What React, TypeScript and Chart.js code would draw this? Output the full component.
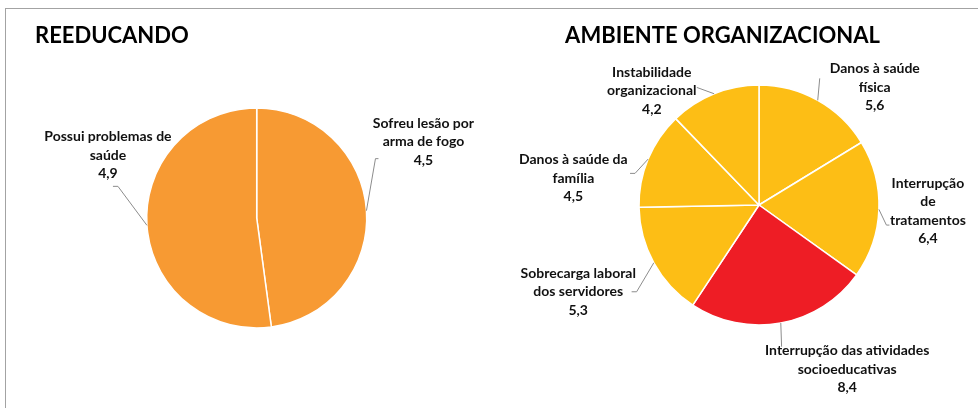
import React, { useEffect, useRef } from "react";
import { Chart, registerables } from "chart.js";

Chart.register(...registerables);

// ---------- DATA ----------
const leftTitle = "REEDUCANDO";
const leftCategories = [
  ["Sofreu lesão por", "arma de fogo"],
  ["Possui problemas de", "saúde"],
];
const leftValues = [4.5, 4.9];
const leftColors = ["#F79A33", "#F79A33"];

const rightTitle = "AMBIENTE ORGANIZACIONAL";
const rightCategories = [
  ["Danos à saúde", "física"],
  ["Interrupção", "de", "tratamentos"],
  ["Interrupção das atividades", "socioeducativas"],
  ["Sobrecarga laboral", "dos servidores"],
  ["Danos à saúde da", "família"],
  ["Instabilidade", "organizacional"],
];
const rightValues = [5.6, 6.4, 8.4, 5.3, 4.5, 4.2];
const rightColors = ["#FDBE15", "#FDBE15", "#EE1D25", "#FDBE15", "#FDBE15", "#FDBE15"];

// ---------- LAYOUT (label placement relative to slice edge) ----------
// lx, ly: label block centre relative to the arc's outer mid point
// ax, ay: leader attachment relative to label centre; tick: short horizontal tail
const leftLabelLayout = [
  { lx: 57, ly: -69, ax: -48, ay: 17, tick: 3 },
  { lx: -39, ly: -70, ax: 10, ay: 31, tick: -5 },
];
const rightLabelLayout = [
  { lx: 57, ly: -13, ax: -55, ay: -9, tick: 0 },
  { lx: 49, ly: 1.5, ax: -41.5, ay: 14.2, tick: 3 },
  { lx: 66.4, ly: 46, ax: -65.6, ay: -22.3, tick: 0 },
  { lx: -75.6, ly: 29, ax: 58.4, ay: 0, tick: -5 },
  { lx: -74.8, ly: 19.3, ax: 61.7, ay: -5, tick: -5 },
  { lx: -62.3, ly: -3, ax: 45, ay: -3.3, tick: 0 },
];

const FONT_FAMILY = "Lato, 'Open Sans', 'DejaVu Sans', sans-serif";

const fmt = (v: number) => v.toFixed(1).replace(".", ",");

function makeLabelPlugin(
  title: string,
  titleX: number,
  titleAlign: CanvasTextAlign,
  cats: string[][],
  layout: { lx: number; ly: number; ax: number; ay: number; tick: number }[]
) {
  return {
    id: "pieLabels",
    afterDraw(chart: any) {
      const ctx = chart.ctx as CanvasRenderingContext2D;
      const meta = chart.getDatasetMeta(0);
      const values = chart.data.datasets[0].data as number[];
      ctx.save();
      // title
      ctx.fillStyle = "#000";
      ctx.font = `bold 22px ${FONT_FAMILY}`;
      ctx.textAlign = titleAlign;
      ctx.textBaseline = "alphabetic";
      ctx.fillText(title, titleX, 43);

      const lineH = 18.4;
      meta.data.forEach((arc: any, i: number) => {
        const p = arc.getProps(["x", "y", "startAngle", "endAngle", "outerRadius"], true);
        const mid = (p.startAngle + p.endAngle) / 2;
        const ex = p.x + Math.cos(mid) * p.outerRadius;
        const ey = p.y + Math.sin(mid) * p.outerRadius;
        const L = layout[i];
        const cx = ex + L.lx;
        const cy = ey + L.ly;
        const lines = [...cats[i], fmt(values[i])];
        // leader line
        const axp = cx + L.ax;
        const ayp = cy + L.ay;
        ctx.strokeStyle = "#8c8c8c";
        ctx.lineWidth = 1;
        ctx.beginPath();
        ctx.moveTo(ex, ey);
        ctx.lineTo(axp, ayp);
        if (L.tick) ctx.lineTo(axp + L.tick, ayp);
        ctx.stroke();
        // text
        ctx.fillStyle = "#111";
        ctx.font = `bold 14px ${FONT_FAMILY}`;
        ctx.textAlign = "center";
        ctx.textBaseline = "middle";
        const top = cy - ((lines.length - 1) * lineH) / 2;
        lines.forEach((t, k) => ctx.fillText(t, cx, top + k * lineH));
      });
      ctx.restore();
    },
  };
}

function PieCanvas(props: {
  left: number;
  width: number;
  values: number[];
  colors: string[];
  cats: string[][];
  radius: number;
  padding: { left: number; right: number; top: number; bottom: number };
  plugin: any;
}) {
  const ref = useRef<HTMLCanvasElement | null>(null);
  useEffect(() => {
    if (!ref.current) return;
    const chart = new Chart(ref.current, {
      type: "pie",
      data: {
        labels: props.cats.map((c) => c.join(" ")),
        datasets: [
          {
            data: props.values,
            backgroundColor: props.colors,
            borderColor: "#ffffff",
            borderWidth: 1.5,
          },
        ],
      },
      options: {
        animation: false,
        responsive: false,
        radius: props.radius,
        layout: { padding: props.padding },
        plugins: {
          legend: { display: false },
          tooltip: { enabled: false },
          title: { display: false },
        },
      } as any,
      plugins: [props.plugin],
    });
    return () => chart.destroy();
  }, []);
  return (
    <canvas
      ref={ref}
      width={props.width}
      height={408}
      style={{ position: "absolute", left: props.left, top: 0, width: props.width, height: 408 }}
    />
  );
}

export default function App() {
  return (
    <div
      style={{
        position: "fixed",
        left: 0,
        top: 0,
        width: 978,
        height: 408,
        overflow: "hidden",
        background: "#fff",
      }}
    >
      <div
        style={{
          position: "absolute",
          left: 5,
          top: 8,
          width: 1000,
          height: 500,
          border: "1.5px solid #a3a3a3",
        }}
      />
      <PieCanvas
        left={0}
        width={490}
        values={leftValues}
        colors={leftColors}
        cats={leftCategories}
        radius={110}
        padding={{ left: 23.4, right: 0, top: 28, bottom: 0 }}
        plugin={makeLabelPlugin(leftTitle, 35, "left", leftCategories, leftLabelLayout)}
      />
      <PieCanvas
        left={490}
        width={488}
        values={rightValues}
        colors={rightColors}
        cats={rightCategories}
        radius={120}
        padding={{ left: 50, right: 0, top: 2, bottom: 0 }}
        plugin={makeLabelPlugin(rightTitle, 232.5, "center", rightCategories, rightLabelLayout)}
      />
    </div>
  );
}
